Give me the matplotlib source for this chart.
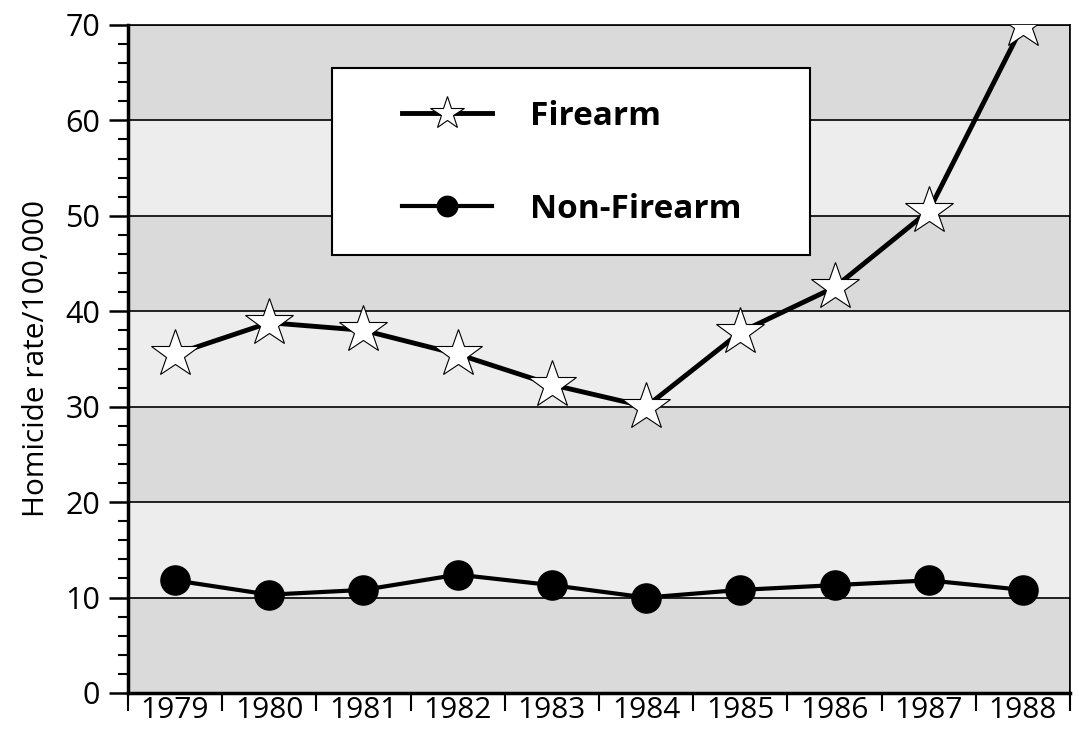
import numpy as np
import matplotlib.pyplot as plt
from matplotlib.patches import Rectangle

# data
years = ["1979", "1980", "1981", "1982", "1983", "1984", "1985", "1986", "1987", "1988"]
firearm = [35.5, 38.8, 38.0, 35.5, 32.3, 30.0, 37.8, 42.5, 50.5, 70.0]
non_firearm = [11.8, 10.3, 10.8, 12.4, 11.3, 10.0, 10.8, 11.3, 11.8, 10.8]
band_edges = [0, 10, 20, 30, 40, 50, 60, 70]

plt.rcParams['font.family'] = ['Open Sans', 'DejaVu Sans']

fig = plt.figure(figsize=(10.79, 7.34), dpi=100)
ax = fig.add_axes([0.1186, 0.0559, 0.8731, 0.9101])

x = np.arange(len(years))

# alternating shaded bands, boxed ones darker
for i in range(len(band_edges) - 1):
    lo, hi = band_edges[i], band_edges[i + 1]
    if i % 2 == 0:
        ax.add_patch(Rectangle((-0.5, lo), 10, hi - lo, facecolor='#dadada',
                               edgecolor='black', linewidth=1.2, zorder=1))
    else:
        ax.add_patch(Rectangle((-0.5, lo), 10, hi - lo, facecolor='#ededed',
                               edgecolor='none', zorder=0.5))

# white legend box
ax.add_patch(Rectangle((0.2166, 0.656), 0.5074, 0.28, transform=ax.transAxes,
                       facecolor='white', edgecolor='black', linewidth=1.5, zorder=2))

ax.plot(x, firearm, color='black', linewidth=3.5, marker='*', markersize=36,
        markerfacecolor='white', markeredgecolor='black', markeredgewidth=0.8,
        zorder=4, label='Firearm')
ax.plot(x, non_firearm, color='black', linewidth=3, marker='o', markersize=21,
        markerfacecolor='black', zorder=4, label='Non-Firearm')

leg = ax.legend(loc='upper left', bbox_to_anchor=(0.291, 0.888), frameon=False,
                prop={'size': 24, 'weight': 'bold'}, handlelength=2.7,
                handletextpad=1.13, labelspacing=1.8, borderpad=0, borderaxespad=0,
                markerscale=0.7)
leg.set_zorder(5)

ax.set_xlim(-0.5, 9.5)
ax.set_ylim(0, 70)

ax.set_xticks(x)
ax.set_xticklabels(years)
ax.set_xticks(np.arange(-0.5, 10, 1), minor=True)
ax.tick_params(axis='x', which='major', length=0, pad=2, labelsize=21.5)
ax.tick_params(axis='x', which='minor', length=13, width=1.5, direction='out')

ax.set_yticks(np.arange(0, 71, 10))
ax.set_yticks(np.arange(0, 71, 2), minor=True)
ax.tick_params(axis='y', which='major', length=14, width=1.8, pad=6, labelsize=22)
ax.tick_params(axis='y', which='minor', length=7, width=1.5)

ax.set_ylabel('Homicide rate/100,000', fontsize=21.5, labelpad=10)

ax.spines['left'].set_linewidth(2.5)
ax.spines['bottom'].set_linewidth(2.5)
ax.spines['top'].set_linewidth(1.2)
ax.spines['right'].set_linewidth(1.2)

fig.savefig('out.png', dpi=100)
